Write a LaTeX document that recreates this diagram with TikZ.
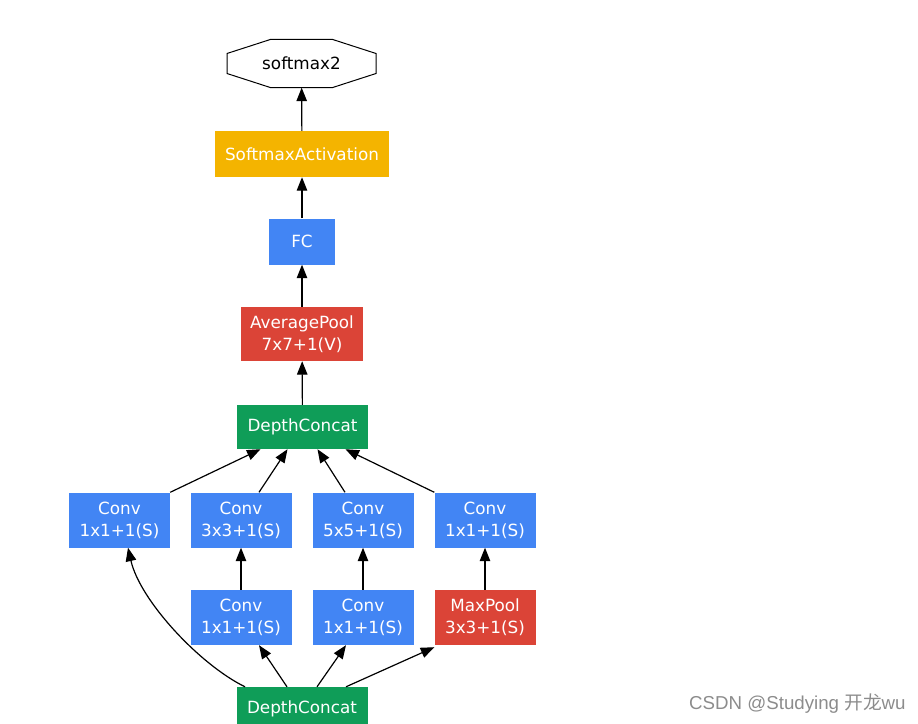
\documentclass[tikz,border=0pt]{standalone}
\usepackage{fontspec}
\setmainfont{DejaVu Sans}
\newfontfamily\wmfont{Liberation Sans}
\newfontfamily\cjkfont{Noto Sans CJK SC}
\usetikzlibrary{arrows.meta,calc}
\definecolor{gblue}{HTML}{4285F4}
\definecolor{gred}{HTML}{DB4437}
\definecolor{ggreen}{HTML}{0F9D58}
\definecolor{gyellow}{HTML}{F4B400}
\tikzset{
  opbox/.style={rectangle, inner sep=0pt, text=white, align=center,
    font=\fontsize{16.8}{22}\selectfont},
  convbox/.style={opbox, fill=gblue, minimum width=101pt, minimum height=55pt},
  edge/.style={line width=1.2pt, -{Triangle[length=13.5pt,width=10.5pt]}},
}
\begin{document}
\begin{tikzpicture}[x=1pt,y=-1pt]
\useasboundingbox (0,0) rectangle (918,723);
% top nodes
\node[rectangle, inner sep=0pt, minimum width=150pt, minimum height=48pt,
  font=\fontsize{16.8}{22}\selectfont] (sm) at (301.5,63.5) {softmax2};
\draw[line width=1pt] ($(sm.center)+(-30.6,-24.2)$) -- ($(sm.center)+(30.6,-24.2)$)
  -- ($(sm.center)+(74.5,-10)$) -- ($(sm.center)+(74.5,10)$)
  -- ($(sm.center)+(30.6,24.2)$) -- ($(sm.center)+(-30.6,24.2)$)
  -- ($(sm.center)+(-74.5,10)$) -- ($(sm.center)+(-74.5,-10)$) -- cycle;
\node[opbox, fill=gyellow, minimum width=174pt, minimum height=46pt] (sa) at (302,154) {SoftmaxActivation};
\node[opbox, fill=gblue, minimum width=66pt, minimum height=46pt] (fc) at (302,241.5) {FC};
\node[opbox, fill=gred, minimum width=122pt, minimum height=54pt] (ap) at (302,334) {AveragePool\\7x7+1(V)};
\node[opbox, fill=ggreen, minimum width=131pt, minimum height=44pt] (dc1) at (302.5,427) {DepthConcat};
% row 1
\node[convbox] (a) at (119.5,520) {Conv\\1x1+1(S)};
\node[convbox] (b) at (241,520) {Conv\\3x3+1(S)};
\node[convbox] (c) at (363,520) {Conv\\5x5+1(S)};
\node[convbox] (d) at (485,520) {Conv\\1x1+1(S)};
% row 2
\node[convbox] (b2) at (241,617.5) {Conv\\1x1+1(S)};
\node[convbox] (c2) at (363,617.5) {Conv\\1x1+1(S)};
\node[opbox, fill=gred, minimum width=101pt, minimum height=55pt] (mp) at (485,617.5) {MaxPool\\3x3+1(S)};
% bottom
\node[opbox, fill=ggreen, minimum width=131pt, minimum height=44pt] (dc0) at (302,709) {DepthConcat};
% edges
\draw[edge] (sa) -- (sm);
\draw[edge] (fc) -- (sa);
\draw[edge] (ap) -- (fc);
\draw[edge] (dc1) -- (ap);
\draw[edge] (a.north east) -- ([xshift=-42pt]dc1.south);
\draw[edge] ([xshift=18pt]b.north) -- ([xshift=-15pt]dc1.south);
\draw[edge] ([xshift=-18pt]c.north) -- ([xshift=15pt]dc1.south);
\draw[edge] (d.north west) -- ([xshift=43pt]dc1.south);
\draw[edge] (b2) -- (b);
\draw[edge] (c2) -- (c);
\draw[edge] (mp) -- (d);
\draw[edge] ([xshift=-57pt]dc0.north) .. controls +(-45,-22) and +(12,53) .. ([xshift=8.5pt]a.south);
\draw[edge] ([xshift=-15pt]dc0.north) -- ([xshift=18pt]b2.south);
\draw[edge] ([xshift=15pt]dc0.north) -- ([xshift=-17pt]c2.south);
\draw[edge] ([xshift=44pt]dc0.north) -- ([yshift=-2pt]mp.south west);
% watermark
\node[anchor=west, text=black!45, font=\fontsize{18.7}{20}\selectfont, inner sep=0pt] (wm) at (689,704)
  {\wmfont CSDN @Studying \cjkfont 开龙\wmfont wu};
\end{tikzpicture}
\end{document}
